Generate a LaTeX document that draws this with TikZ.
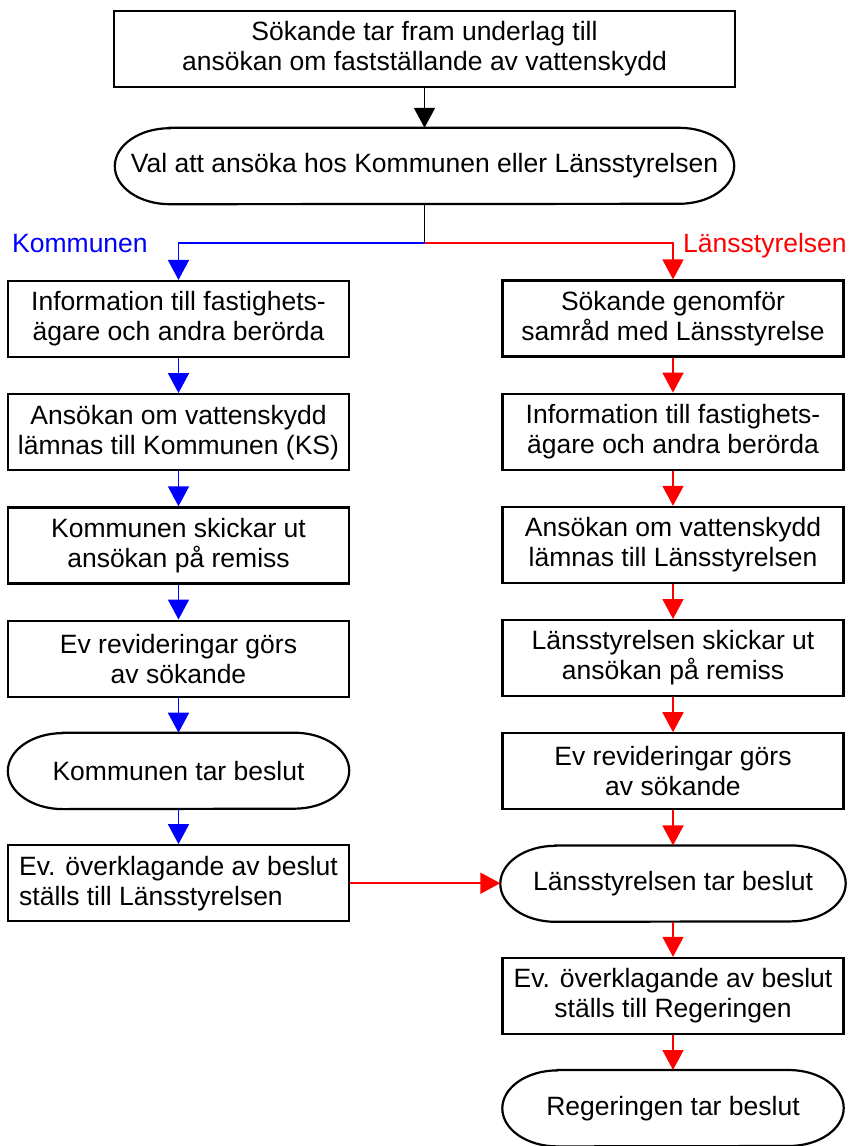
\documentclass[tikz,border=0pt]{standalone}
\usepackage{fontspec}
\setmainfont{Liberation Sans}
\usetikzlibrary{positioning,arrows.meta}
\definecolor{kblue}{HTML}{0000FF}
\definecolor{lred}{HTML}{FF0000}
\tikzset{
  box/.style={draw=black, line width=2.2pt, minimum width=341pt, minimum height=76pt, align=center, inner sep=3pt},
  term/.style={minimum width=341pt, minimum height=76pt, align=center, inner sep=3pt},
  frame/.style={draw=black, line width=2.2pt},
  arr/.style={line width=1.8pt, -{Triangle[width=21pt,length=20pt]}},
  karr/.style={arr, color=kblue},
  larr/.style={arr, color=lred},
  branch/.style={text=#1, anchor=base west, inner sep=0pt}
}

\begin{document}
\begin{tikzpicture}[x=1pt, y=-1pt, node distance=35pt, font=\fontsize{26.5}{30}\selectfont]
  \useasboundingbox (0,0) rectangle (849,1146);

  \node[box, minimum width=621pt] (start) at (424.5,49) {Sökande tar fram underlag till\\ansökan om fastställande av vattenskydd};
  \node[term, minimum width=619pt] (choice) at (424.5,166) {Val att ansöka hos Kommunen eller Länsstyrelsen};
  \coordinate (split) at ([yshift=-39pt]choice.south);

  \node[branch=kblue] (kom) at (12,252) {Kommunen};
  \node[branch=lred] (lan) at (683,252) {Länsstyrelsen};

  \node[box] (k1) at (178.5,319) {Information till fastighets-\\ägare och andra berörda};
  \node[box, below=of k1] (k2) {Ansökan om vattenskydd\\lämnas till Kommunen (KS)};
  \node[box, below=of k2] (k3) {Kommunen skickar ut\\ansökan på remiss};
  \node[box, below=of k3] (k4) {Ev revideringar görs\\av sökande};
  \node[term, below=of k4] (k5) {Kommunen tar beslut};
  \node[box, below=of k5, align=left] (k6) {Ev. överklagande av beslut\\ställs till Länsstyrelsen};

  \node[box] (l1) at (673,318.5) {Sökande genomför\\samråd med Länsstyrelse};
  \node[box, below=of l1] (l2) {Information till fastighets-\\ägare och andra berörda};
  \node[box, below=of l2] (l3) {Ansökan om vattenskydd\\lämnas till Länsstyrelsen};
  \node[box, below=of l3] (l4) {Länsstyrelsen skickar ut\\ansökan på remiss};
  \node[box, below=of l4] (l5) {Ev revideringar görs\\av sökande};
  \node[term, below=of l5, minimum width=345pt] (l6) {Länsstyrelsen tar beslut};
  \node[box, below=of l6] (l7) {Ev. överklagande av beslut\\ställs till Regeringen};
  \node[term, below=of l7] (l8) {Regeringen tar beslut};

  \foreach \n in {choice,k5,l6,l8}
    \draw[frame] ([xshift=55pt]\n.north west) -- ([xshift=-55pt]\n.north east)
      arc[start angle=90, end angle=-90, x radius=55pt, y radius=38pt]
      -- ([xshift=55pt]\n.south west)
      arc[start angle=270, end angle=90, x radius=55pt, y radius=38pt] -- cycle;

  \draw[arr] (start) -- (choice);
  \draw[line width=1.8pt] (choice.south) -- (split);
  \draw[karr] (split) -| (k1.north);
  \draw[larr] (split) -| (l1.north);

  \draw[karr] (k1) -- (k2);
  \draw[karr] (k2) -- (k3);
  \draw[karr] (k3) -- (k4);
  \draw[karr] (k4) -- (k5);
  \draw[karr] (k5) -- (k6);
  \draw[larr] (k6.east) -- (k6.east -| l6.west);

  \draw[larr] (l1) -- (l2);
  \draw[larr] (l2) -- (l3);
  \draw[larr] (l3) -- (l4);
  \draw[larr] (l4) -- (l5);
  \draw[larr] (l5) -- (l6);
  \draw[larr] (l6) -- (l7);
  \draw[larr] (l7) -- (l8);
\end{tikzpicture}
\end{document}
